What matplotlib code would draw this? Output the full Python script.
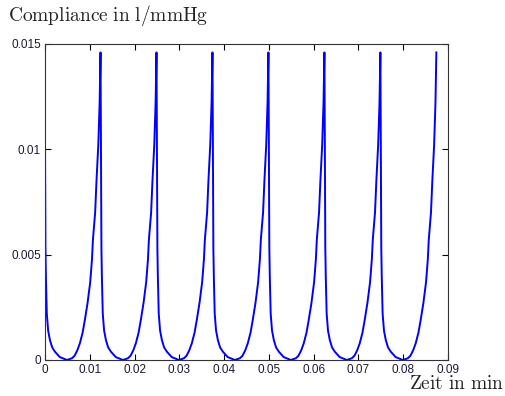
import numpy as np
import matplotlib
matplotlib.use("Agg")
import matplotlib.pyplot as plt

plt.rcParams['mathtext.fontset'] = 'cm'
plt.rcParams['font.family'] = ['Liberation Sans', 'DejaVu Sans']

# one heart cycle (phase in min, compliance in l/mmHg)
phase = [0.0000, 0.0001, 0.0002, 0.0004, 0.0007, 0.0011, 0.0016, 0.0022, 0.0033,
         0.0049, 0.0060, 0.0066, 0.0072, 0.0078, 0.0084, 0.0089, 0.0095, 0.0101,
         0.0105, 0.0107, 0.0112, 0.0115, 0.0119, 0.0122, 0.0124]
compliance = [0.0103, 0.0053, 0.0040, 0.0022, 0.0014, 0.00095, 0.0006, 0.0004, 0.00014,
              0.0, 0.00008, 0.0002, 0.00045, 0.0008, 0.0013, 0.0019, 0.0027, 0.0037,
              0.0048, 0.0057, 0.0070, 0.0085, 0.0102, 0.0122, 0.0146]
cycle_start = [0.0, 0.0125, 0.025, 0.0375, 0.05, 0.0625, 0.075]

xticks = [0, 0.01, 0.02, 0.03, 0.04, 0.05, 0.06, 0.07, 0.08, 0.09]
xticklabels = ['0', '0.01', '0.02', '0.03', '0.04', '0.05', '0.06', '0.07', '0.08', '0.09']
yticks = [0, 0.005, 0.01, 0.015]
yticklabels = ['0', '0.005', '0.01', '0.015']

t = np.concatenate([np.array(phase) + s for s in cycle_start])
c = np.tile(compliance, len(cycle_start))

fig = plt.figure(figsize=(5.05, 3.96), dpi=100)
ax = fig.add_axes([45 / 505, 1 - 360 / 396, (448 - 45) / 505, (360 - 44) / 396])
ax.plot(t, c, color='#0000ff', lw=1.4)

ax.set_xlim(0, 0.09)
ax.set_ylim(0, 0.015)
ax.set_xticks(xticks)
ax.set_xticklabels(xticklabels)
ax.set_yticks(yticks)
ax.set_yticklabels(yticklabels)
ax.tick_params(direction='in', length=4, width=0.8, labelsize=8.5,
               top=True, right=True, pad=3, labelcolor='#1a1a33')
for sp in ax.spines.values():
    sp.set_linewidth(0.8)
    sp.set_color('#333333')

fig.text(8 / 505, 1 - 16 / 396, r'$\mathrm{Compliance\ in\ l/mmHg}$',
         fontsize=14, ha='left', va='center', color='#222222')
fig.text(504 / 505, 1 - 384 / 396, r'$\mathrm{Zeit\ in\ min}$',
         fontsize=14, ha='right', va='center', color='#222222')

fig.savefig('out.png', dpi=100)
